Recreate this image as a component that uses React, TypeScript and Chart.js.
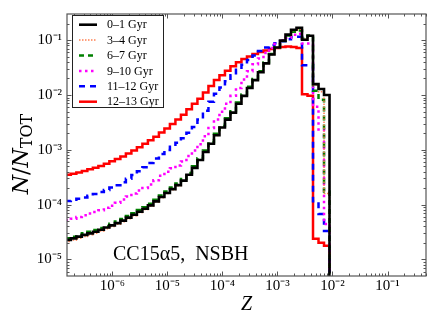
import React, { useEffect, useRef } from 'react';
import { Chart, registerables } from 'chart.js';

Chart.register(...registerables);

// Bin edges of the metallicity histogram, log10(Z)
const binEdgesLog10 = [
  -6.854, -6.754, -6.654, -6.554, -6.454, -6.354, -6.254, -6.154, -6.054, -5.954,
  -5.854, -5.754, -5.654, -5.554, -5.454, -5.354, -5.254, -5.154, -5.054, -4.954,
  -4.854, -4.754, -4.654, -4.554, -4.454, -4.354, -4.254, -4.154, -4.054, -3.954,
  -3.854, -3.754, -3.654, -3.554, -3.454, -3.354, -3.254, -3.154, -3.054, -2.954,
  -2.854, -2.754, -2.654, -2.554, -2.454, -2.354, -2.254, -2.154, -2.054,
];

const seriesLabels = ['0–1 Gyr', '3–4 Gyr', '6–7 Gyr', '9–10 Gyr', '11–12 Gyr', '12–13 Gyr'];

const age0to1 = [
  2.28e-5, 2.43e-5, 2.61e-5, 2.81e-5, 3.0e-5, 3.21e-5, 3.49e-5, 3.83e-5, 4.19e-5, 4.61e-5,
  5.12e-5, 5.79e-5, 6.56e-5, 7.43e-5, 8.4e-5, 9.7e-5, 1.15e-4, 1.38e-4, 1.63e-4, 1.92e-4,
  2.27e-4, 2.74e-4, 3.51e-4, 4.69e-4, 6.53e-4, 9.1e-4, 1.29e-3, 1.84e-3, 2.56e-3, 3.56e-3,
  4.76e-3, 6.92e-3, 9.64e-3, 1.34e-2, 1.87e-2, 2.6e-2, 3.78e-2, 5.48e-2, 7.33e-2, 9.8e-2,
  0.126, 0.155, 0.168, 0.102, 0.12, 0.0158, 0.0129, 0.01,
];
const age3to4 = [
  2.12e-5, 2.27e-5, 2.44e-5, 2.63e-5, 2.82e-5, 3.02e-5, 3.3e-5, 3.62e-5, 3.98e-5, 4.4e-5,
  4.9e-5, 5.55e-5, 6.3e-5, 7.2e-5, 8.15e-5, 9.4e-5, 1.12e-4, 1.34e-4, 1.59e-4, 1.88e-4,
  2.22e-4, 2.68e-4, 3.45e-4, 4.6e-4, 6.45e-4, 9.0e-4, 1.28e-3, 1.83e-3, 2.55e-3, 3.55e-3,
  4.75e-3, 6.9e-3, 9.6e-3, 1.33e-2, 1.86e-2, 2.6e-2, 3.75e-2, 5.45e-2, 7.3e-2, 9.7e-2,
  0.124, 0.15, 0.158, 0.104, 0.12, 0.0152, 0.0115, 1.6e-4,
];
const age6to7 = [
  2.45e-5, 2.6e-5, 2.8e-5, 3.0e-5, 3.2e-5, 3.45e-5, 3.75e-5, 4.1e-5, 4.5e-5, 4.95e-5,
  5.5e-5, 6.2e-5, 7.0e-5, 7.95e-5, 9.0e-5, 1.04e-4, 1.23e-4, 1.47e-4, 1.74e-4, 2.05e-4,
  2.42e-4, 2.93e-4, 3.76e-4, 5.0e-4, 7.0e-4, 9.7e-4, 1.38e-3, 1.96e-3, 2.72e-3, 3.78e-3,
  5.05e-3, 7.3e-3, 1.02e-2, 1.41e-2, 1.96e-2, 2.72e-2, 3.9e-2, 5.6e-2, 7.4e-2, 9.7e-2,
  0.122, 0.142, 0.15, 0.106, 0.122, 0.0119, 0.0082, 1.73e-4,
];
const age9to10 = [
  5.22e-5, 5.56e-5, 5.98e-5, 6.43e-5, 6.89e-5, 7.36e-5, 7.89e-5, 8.75e-5, 9.59e-5, 1.08e-4,
  1.24e-4, 1.41e-4, 1.6e-4, 1.81e-4, 2.02e-4, 2.32e-4, 2.79e-4, 3.37e-4, 3.97e-4, 4.59e-4,
  5.2e-4, 6.14e-4, 7.71e-4, 9.68e-4, 1.27e-3, 1.76e-3, 2.51e-3, 3.56e-3, 4.97e-3, 6.92e-3,
  9.64e-3, 1.34e-2, 1.91e-2, 2.71e-2, 3.62e-2, 4.65e-2, 5.83e-2, 7.18e-2, 8.47e-2, 0.1,
  0.111, 0.126, 0.131, 0.0865, 0.0865, 6.1e-3, 2.36e-3, 4.42e-5,
];
const age11to12 = [
  1.17e-4, 1.23e-4, 1.28e-4, 1.35e-4, 1.45e-4, 1.56e-4, 1.7e-4, 1.86e-4, 2.05e-4, 2.27e-4,
  2.57e-4, 2.97e-4, 3.47e-4, 4.06e-4, 4.79e-4, 5.77e-4, 6.95e-4, 8.38e-4, 9.89e-4, 1.14e-3,
  1.35e-3, 1.62e-3, 2.04e-3, 2.61e-3, 3.56e-3, 5.18e-3, 7.52e-3, 1.05e-2, 1.37e-2, 1.79e-2,
  2.3e-2, 2.89e-2, 3.55e-2, 4.37e-2, 5.26e-2, 6.34e-2, 7.33e-2, 8.13e-2, 8.83e-2, 9.59e-2,
  0.104, 0.113, 0.116, 3.48e-2, 3.48e-2, 1.15e-4, 6.78e-5, 3.31e-5,
];
const age12to13 = [
  3.51e-4, 3.66e-4, 3.85e-4, 4.1e-4, 4.41e-4, 4.72e-4, 5.09e-4, 5.57e-4, 6.18e-4, 6.81e-4,
  7.55e-4, 8.55e-4, 9.75e-4, 1.12e-3, 1.29e-3, 1.49e-3, 1.74e-3, 2.06e-3, 2.45e-3, 2.96e-3,
  3.56e-3, 4.38e-3, 5.51e-3, 6.92e-3, 8.51e-3, 1.11e-2, 1.46e-2, 1.87e-2, 2.3e-2, 2.77e-2,
  3.34e-2, 3.94e-2, 4.55e-2, 5.05e-2, 5.6e-2, 6.08e-2, 6.47e-2, 6.89e-2, 7.18e-2, 7.48e-2,
  7.64e-2, 7.48e-2, 7.18e-2, 1.03e-2, 9.64e-3, 2.38e-5, 2.01e-5, 1.78e-5,
];

const xTickExponents = [-6, -5, -4, -3, -2, -1];
const yTickExponents = [-5, -4, -3, -2, -1];
const xLimits = [1.5e-7, 0.5];
const yLimits = [5e-6, 0.3];
const belowAxis = 1e-9; // histogram drops to zero after last bin
const annotationText = 'CC15α5,  NSBH';

const SERIF = '"Liberation Serif", "Times New Roman", serif';
const DSERIF = '"DejaVu Serif", serif';
const SUP: Record<string, string> = {
  '-': '⁻', '0': '⁰', '1': '¹', '2': '²', '3': '³', '4': '⁴',
  '5': '⁵', '6': '⁶', '7': '⁷', '8': '⁸', '9': '⁹',
};
const powLabel = (v: number, exps: number[]) => {
  const e = Math.log10(v);
  const r = Math.round(e);
  if (Math.abs(e - r) < 1e-6 && exps.includes(r)) {
    return '10' + String(r).split('').map((c) => SUP[c] || c).join('');
  }
  return '';
};

const styles = [
  { color: '#000000', width: 2.6, dash: [] as number[] },
  { color: '#ff7f50', width: 1.5, dash: [1.5, 1.5] },
  { color: '#008000', width: 2.5, dash: [5, 4] },
  { color: '#ff00ff', width: 2.5, dash: [2.5, 3.5] },
  { color: '#0000ff', width: 2.5, dash: [6, 5] },
  { color: '#ff0000', width: 2.5, dash: [] as number[] },
];

const seriesValues = [age0to1, age3to4, age6to7, age9to10, age11to12, age12to13];

const toSteps = (vals: number[]) => {
  const pts = vals.map((v, i) => ({ x: Math.pow(10, binEdgesLog10[i]), y: v }));
  pts.push({ x: Math.pow(10, binEdgesLog10[binEdgesLog10.length - 1]), y: belowAxis });
  return pts;
};

const decorPlugin = {
  id: 'decor',
  afterDraw(chart: any) {
    const { ctx, chartArea: a, scales } = chart;
    const xs = scales.x;
    const ys = scales.y;
    ctx.save();
    // frame
    ctx.strokeStyle = '#555';
    ctx.lineWidth = 1.2;
    ctx.strokeRect(a.left, a.top, a.right - a.left, a.bottom - a.top);
    // inward ticks on all sides
    ctx.lineWidth = 1;
    ctx.beginPath();
    for (let e = -8; e <= 1; e++) {
      for (let m = 1; m <= 9; m++) {
        const v = m * Math.pow(10, e);
        const L = m === 1 ? 4.5 : 2.5;
        if (v >= xs.min && v <= xs.max) {
          const p = Math.round(xs.getPixelForValue(v)) + 0.5;
          ctx.moveTo(p, a.bottom);
          ctx.lineTo(p, a.bottom - L);
          ctx.moveTo(p, a.top);
          ctx.lineTo(p, a.top + L);
        }
        if (v >= ys.min && v <= ys.max) {
          const p = Math.round(ys.getPixelForValue(v)) + 0.5;
          ctx.moveTo(a.left, p);
          ctx.lineTo(a.left + L, p);
          ctx.moveTo(a.right, p);
          ctx.lineTo(a.right - L, p);
        }
      }
    }
    ctx.stroke();

    // legend
    const lx = 72.5, ly = 15.5, lw = 91, lh = 92;
    ctx.fillStyle = '#fff';
    ctx.fillRect(lx, ly, lw, lh);
    ctx.strokeStyle = '#222';
    ctx.lineWidth = 1;
    ctx.strokeRect(lx, ly, lw, lh);
    chart.data.datasets.forEach((ds: any, i: number) => {
      const y = 24.7 + i * 15.4;
      ctx.beginPath();
      ctx.setLineDash(ds.borderDash || []);
      ctx.strokeStyle = ds.borderColor;
      ctx.lineWidth = ds.borderWidth;
      ctx.moveTo(79, y);
      ctx.lineTo(97, y);
      ctx.stroke();
      ctx.setLineDash([]);
      ctx.fillStyle = '#000';
      ctx.font = `12px ${SERIF}`;
      ctx.textAlign = 'left';
      ctx.textBaseline = 'middle';
      ctx.fillText(ds.label, 107, y + 0.5);
    });

    // annotation
    ctx.fillStyle = '#000';
    ctx.font = `20px ${SERIF}`;
    ctx.textAlign = 'left';
    ctx.textBaseline = 'alphabetic';
    ctx.fillText(annotationText, 113, 259.5);

    // x title
    ctx.font = `italic 20px ${SERIF}`;
    ctx.textAlign = 'center';
    ctx.fillText('Z', (a.left + a.right) / 2, 310);

    // y title: N/N_TOT
    ctx.save();
    ctx.translate(28, 154);
    ctx.rotate(-Math.PI / 2);
    const fN = `italic 22px ${DSERIF}`;
    const fS = `22px ${DSERIF}`;
    const fT = `16px ${DSERIF}`;
    ctx.font = fN; const wN = ctx.measureText('N').width;
    ctx.font = fS; const wS = ctx.measureText('/').width;
    ctx.font = fT; const wT = ctx.measureText('TOT').width;
    const total = wN * 2 + wS + wT;
    let x0 = -total / 2;
    ctx.textAlign = 'left';
    ctx.font = fN; ctx.fillText('N', x0, 0); x0 += wN;
    ctx.font = fS; ctx.fillText('/', x0, 0); x0 += wS;
    ctx.font = fN; ctx.fillText('N', x0, 0); x0 += wN;
    ctx.font = fT; ctx.fillText('TOT', x0, 3.5);
    ctx.restore();

    ctx.restore();
  },
};

export default function App() {
  const ref = useRef<HTMLCanvasElement>(null);
  useEffect(() => {
    if (!ref.current) return;
    const tickFont = { family: SERIF, size: 15 };
    const chart = new Chart(ref.current, {
      type: 'line',
      data: {
        datasets: seriesValues.map((vals, i) => ({
          label: seriesLabels[i],
          data: toSteps(vals),
          borderColor: styles[i].color,
          backgroundColor: styles[i].color,
          borderWidth: styles[i].width,
          borderDash: styles[i].dash,
          stepped: true,
          pointRadius: 0,
          fill: false,
        })),
      },
      options: {
        responsive: false,
        devicePixelRatio: 1,
        animation: false,
        events: [],
        layout: { padding: { top: 10, right: 10, left: 0, bottom: 0 } },
        plugins: { legend: { display: false }, tooltip: { enabled: false } },
        scales: {
          x: {
            type: 'logarithmic',
            min: xLimits[0],
            max: xLimits[1],
            grid: { display: false, drawTicks: false },
            border: { display: false },
            ticks: {
              autoSkip: false,
              maxRotation: 0,
              minRotation: 0,
              padding: 1,
              color: '#000',
              font: tickFont,
              callback: (v: any) => powLabel(Number(v), xTickExponents),
            },
            afterFit: (s: any) => { s.height = 53; },
          },
          y: {
            type: 'logarithmic',
            min: yLimits[0],
            max: yLimits[1],
            grid: { display: false, drawTicks: false },
            border: { display: false },
            ticks: {
              autoSkip: false,
              padding: 5,
              color: '#000',
              font: tickFont,
              callback: (v: any) => powLabel(Number(v), yTickExponents),
            },
            afterFit: (s: any) => { s.width = 67; },
          },
        },
      } as any,
      plugins: [decorPlugin],
    });
    return () => chart.destroy();
  }, []);
  return (
    <div style={{ position: 'fixed', left: 0, top: 0, width: 436, height: 329, background: '#fff' }}>
      <canvas ref={ref} width={436} height={329} style={{ display: 'block', width: 436, height: 329 }} />
    </div>
  );
}
